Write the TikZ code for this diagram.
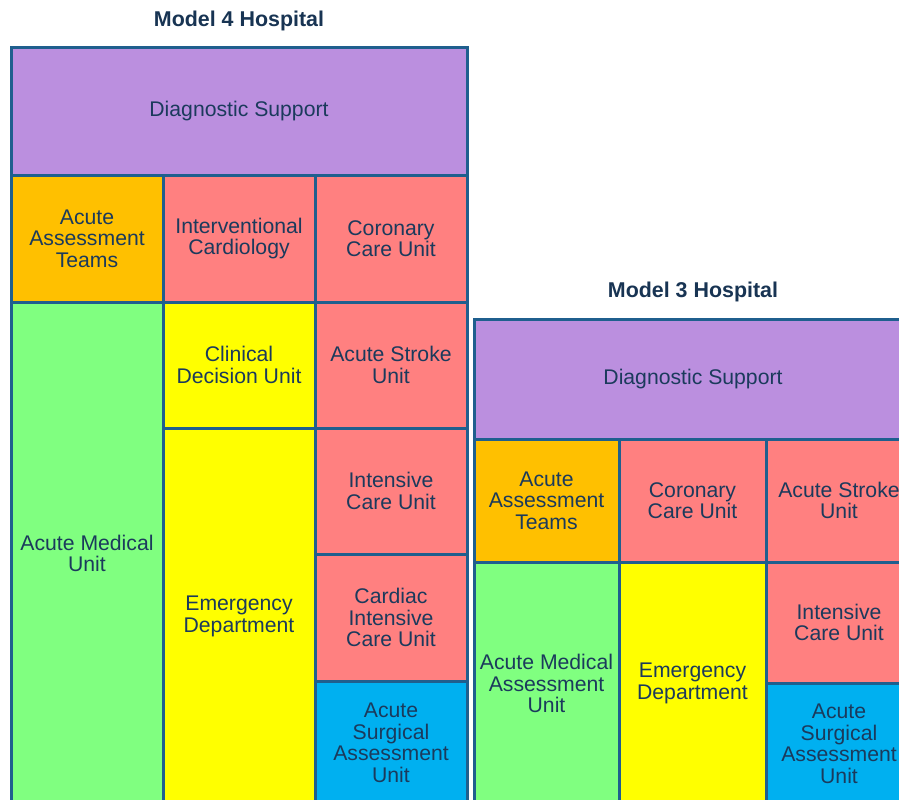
\documentclass[tikz,border=0pt]{standalone}
\usepackage{fontspec}
\setmainfont{Liberation Sans}
\definecolor{edge}{HTML}{1F5F8E}
\definecolor{ink}{HTML}{1B3A5C}
\definecolor{diag}{HTML}{BB8FDF}
\definecolor{assess}{HTML}{FFC000}
\definecolor{cardio}{HTML}{FF8080}
\definecolor{medical}{HTML}{80FF80}
\definecolor{emerg}{HTML}{FFFF00}
\definecolor{surg}{HTML}{00B0F0}
\tikzset{
  cell/.style={draw=edge, line width=3pt, text=ink, align=center,
    inner sep=0pt, outer sep=0pt,
    font=\fontsize{21.2pt}{21.6pt}\selectfont},
  title/.style={text=ink!90!black, font=\fontsize{21.4pt}{22pt}\selectfont\bfseries}
}
% \unit{name}{x1}{y1}{x2}{y2}{fill}{label}
\newcommand{\unit}[7]{%
  \node[cell, fill=#6, minimum width={(#4-#2)*1pt}, minimum height={(#5-#3)*1pt}]
    (#1) at ({(#2+#4)/2},{(#3+#5)/2}) {#7};}
\begin{document}
\begin{tikzpicture}[x=1pt,y=-1pt]
\useasboundingbox (0,0) rectangle (899,800);
\clip (0,0) rectangle (899,800);
\fill[white] (0,0) rectangle (899,800);

% Model 4 hospital
\node[title] (t4) at (239,21) {Model 4 Hospital};
\unit{m4diag}{11}{48}{467}{175}{diag}{Diagnostic Support}
\unit{m4aat}{11}{175}{163}{302}{assess}{Acute\\Assessment\\Teams}
\unit{m4ic}{163}{175}{315}{302}{cardio}{Interventional\\Cardiology}
\unit{m4ccu}{315}{175}{467}{302}{cardio}{Coronary\\Care Unit}
\unit{m4amu}{11}{302}{163}{805}{medical}{Acute Medical\\Unit}
\unit{m4cdu}{163}{302}{315}{428}{emerg}{Clinical\\Decision Unit}
\unit{m4asu}{315}{302}{467}{428}{cardio}{Acute Stroke\\Unit}
\unit{m4ed}{163}{428}{315}{805}{emerg}{Emergency\\Department}
\unit{m4icu}{315}{428}{467}{554}{cardio}{Intensive\\Care Unit}
\unit{m4cicu}{315}{554}{467}{681}{cardio}{Cardiac\\Intensive\\Care Unit}
\unit{m4sau}{315}{681}{467}{805}{surg}{Acute\\Surgical\\Assessment\\Unit}

% Model 3 hospital
\node[title] (t3) at (693,292) {Model 3 Hospital};
\unit{m3diag}{474}{319}{912}{439}{diag}{Diagnostic Support}
\unit{m3aat}{474}{439}{619}{562}{assess}{Acute\\Assessment\\Teams}
\unit{m3ccu}{619}{439}{766}{562}{cardio}{Coronary\\Care Unit}
\unit{m3asu}{766}{439}{912}{562}{cardio}{Acute Stroke\\Unit}
\unit{m3amau}{474}{562}{619}{805}{medical}{Acute Medical\\Assessment\\Unit}
\unit{m3ed}{619}{562}{766}{805}{emerg}{Emergency\\Department}
\unit{m3icu}{766}{562}{912}{683}{cardio}{Intensive\\Care Unit}
\unit{m3sau}{766}{683}{912}{805}{surg}{Acute\\Surgical\\Assessment\\Unit}
\end{tikzpicture}
\end{document}
